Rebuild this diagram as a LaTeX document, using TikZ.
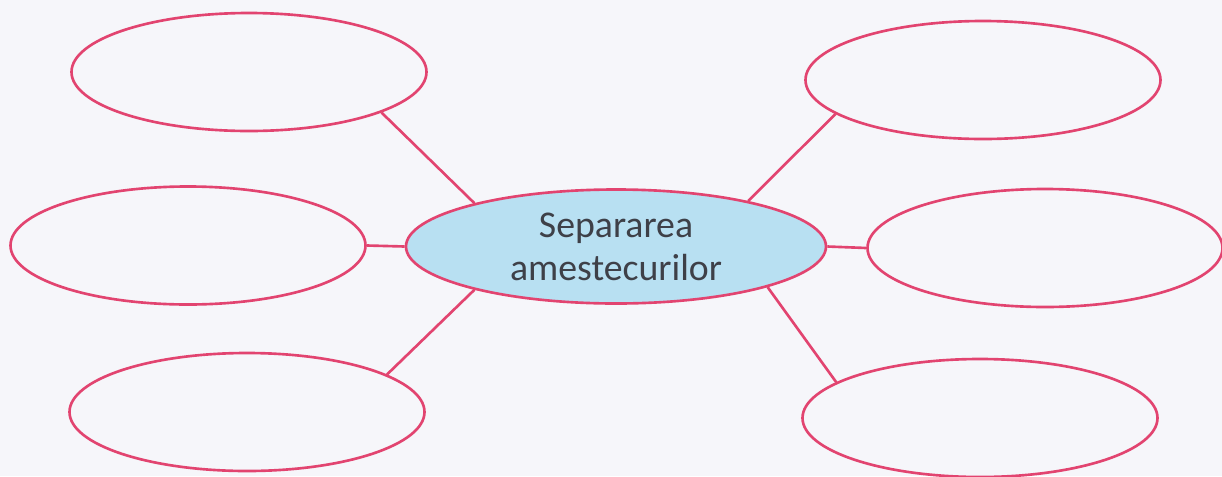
\documentclass[tikz,border=0pt]{standalone}
\usepackage{fontspec}
\setmainfont{Carlito}
\usepackage{tikz}
\usetikzlibrary{shapes.geometric}

\definecolor{rim}{RGB}{226,68,112}
\definecolor{hubfill}{RGB}{184,224,242}
\definecolor{ink}{RGB}{62,64,72}
\definecolor{paper}{RGB}{246,246,250}

\begin{document}
\begin{tikzpicture}[
    bubble/.style={ellipse, draw=rim, line width=1.5pt, fill=paper,
      minimum width=7.1cm, minimum height=2.36cm, inner sep=0pt},
    hub/.style={ellipse, draw=rim, line width=1.5pt, fill=hubfill,
      minimum width=8.4cm, minimum height=2.28cm, inner sep=0pt,
      align=center, text=ink, font=\fontsize{21.5}{24.5}\selectfont},
    link/.style={draw=rim, line width=1.5pt}
  ]
  % --- Page ---
  \fill[paper] (0,0) rectangle (24.44,-9.52);
  \useasboundingbox (0,0) rectangle (24.44,-9.52);
  % --- Centre ---
  \node[hub] (c) at (12.32,-4.93) {Separarea\\amestecurilor};
  % --- Empty bubbles ---
  \node[bubble] (tl) at (4.98,-1.44) {};
  \node[bubble] (ml) at (3.76,-4.91) {};
  \node[bubble] (bl) at (4.94,-8.24) {};
  \node[bubble] (tr) at (19.66,-1.60) {};
  \node[bubble] (mr) at (20.90,-4.96) {};
  \node[bubble] (br) at (19.60,-8.36) {};
  % --- Links ---
  \draw[link] (tl.-17) -- (c.163);
  \draw[link] (ml.east) -- (c.west);
  \draw[link] (bl.15) -- (c.197);
  \draw[link] (tr.193) -- (c.19);
  \draw[link] (c.east) -- (mr.west);
  \draw[link] (br.166) -- (c.-15);
\end{tikzpicture}
\end{document}
